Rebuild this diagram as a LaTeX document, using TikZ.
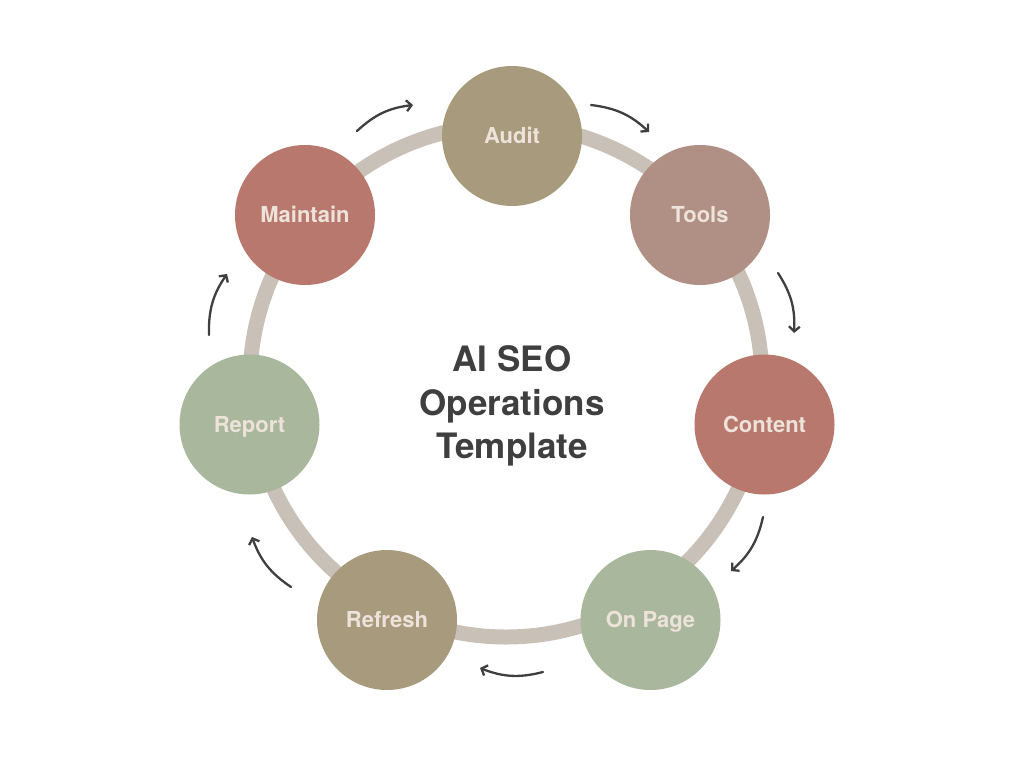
\documentclass[tikz,border=0pt]{standalone}
\usepackage{fontspec}
\setmainfont{TeX Gyre Heros}
\usepackage{tikz}
\usetikzlibrary{arrows.meta,positioning}
\usepackage{xcolor}
\definecolor{sandtan}{HTML}{A89A7C}
\definecolor{dustrose}{HTML}{B09084}
\definecolor{terracotta}{HTML}{B8786D}
\definecolor{sagegreen}{HTML}{A9B79D}
\definecolor{ringgray}{HTML}{C9C1B8}
\definecolor{creamtext}{HTML}{EDE3DA}
\definecolor{inkgray}{HTML}{3F3F3F}

\begin{document}
\begin{tikzpicture}[x=1pt,y=1pt]
        \tikzstyle{stage}=[circle,minimum size=140pt,inner sep=0pt,text=creamtext,text height=15.8pt,text depth=0pt,font=\fontsize{22}{26}\selectfont\bfseries]
        \tikzstyle{flow}=[-{Straight Barb[length=5pt,width=11pt]},line width=2.3pt,inkgray,line cap=round,bend left=18]
        \useasboundingbox (0,0) rectangle (1024,-768);
        % background ring
        \coordinate (hub) at (506,-381);
        \draw[ringgray,line width=15pt] (hub) circle (256);
        % stages around the ring
        \node[stage,fill=sandtan] (audit) at (512,-136) {Audit};
        \node[stage,fill=dustrose] (tools) at (700,-215) {Tools};
        \node[stage,fill=terracotta] (content) at (764.5,-424.5) {Content};
        \node[stage,fill=sagegreen] (onpage) at (650.5,-620) {On Page};
        \node[stage,fill=sandtan] (refresh) at (387,-620) {Refresh};
        \node[stage,fill=sagegreen] (report) at (249.5,-424.5) {Report};
        \node[stage,fill=terracotta] (maintain) at (305,-215) {Maintain};
        % title in the middle
        \node[align=center,text=inkgray,font=\fontsize{35}{43.5}\selectfont\bfseries] (title) at (512,-406) {AI SEO\\Operations\\Template};
        % arrow ends, clockwise
        \coordinate (f1s) at (357,-131);  \coordinate (f1e) at (413,-105); % maintain -> audit
        \coordinate (f2s) at (591,-105);  \coordinate (f2e) at (649,-132); % audit -> tools
        \coordinate (f3s) at (778,-273);  \coordinate (f3e) at (794,-333); % tools -> content
        \coordinate (f4s) at (763,-517);  \coordinate (f4e) at (731,-571); % content -> on page
        \coordinate (f5s) at (543,-672);  \coordinate (f5e) at (480,-668); % on page -> refresh
        \coordinate (f6s) at (291,-587);  \coordinate (f6e) at (252,-537); % refresh -> report
        \coordinate (f7s) at (209,-335);  \coordinate (f7e) at (227,-274); % report -> maintain
        % curved arrows
        \foreach \i in {1,...,7}
            \draw[flow] (f\i s) to (f\i e);
\end{tikzpicture}
\end{document}
